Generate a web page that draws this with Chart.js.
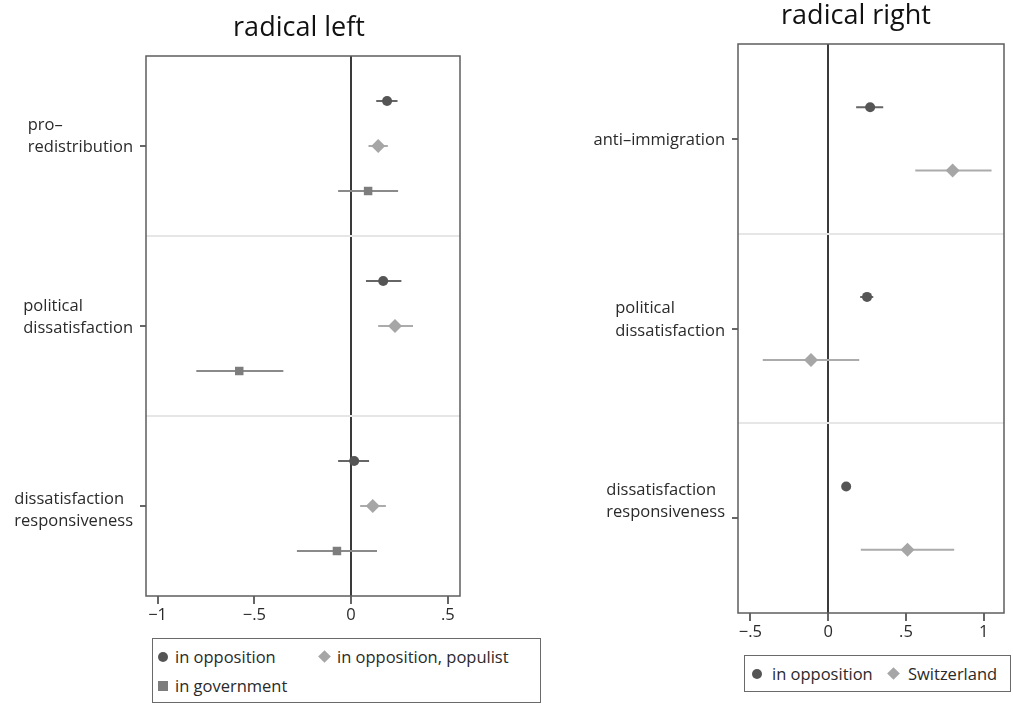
<!DOCTYPE html>
<html>
<head>
<meta charset="utf-8">
<script src="https://cdn.jsdelivr.net/npm/chart.js@4.4.0/dist/chart.umd.min.js"></script>
<style>
  body { margin: 0; background: #fff; font-family: "Open Sans", sans-serif; }
  #wrap { position: relative; width: 1013px; height: 703px; overflow: hidden; }
  canvas { position: absolute; top: 0; }
  .box { position: absolute; border: 1.5px solid #6a6a6a; box-sizing: border-box; }
  .item { position: absolute; white-space: nowrap; font-size: 16.5px; color: #2a2a2a; line-height: 20px; height: 20px; }
  .mk { position: absolute; top: 5px; width: 10px; height: 10px; }
</style>
</head>
<body>
<div id="wrap">
  <canvas id="chartLeft" width="560" height="630" style="left:0"></canvas>
  <canvas id="chartRight" width="453" height="647" style="left:560px"></canvas>

  <div class="box" style="left:152px;top:638px;width:389px;height:65px"></div>
  <div class="item" style="left:158px;top:647px"><span class="mk" style="left:0;border-radius:50%;background:#555"></span><span style="margin-left:17px">in opposition</span></div>
  <div class="item" style="left:320px;top:647px"><span class="mk" style="left:0;width:9px;height:9px;top:5px;transform:rotate(45deg);background:#a6a6a6"></span><span style="margin-left:17px">in opposition, populist</span></div>
  <div class="item" style="left:158px;top:676px"><span class="mk" style="left:0;background:#7d7d7d"></span><span style="margin-left:17px">in government</span></div>

  <div class="box" style="left:744px;top:655px;width:267px;height:37px"></div>
  <div class="item" style="left:752px;top:664px"><span class="mk" style="left:0;border-radius:50%;background:#555"></span><span style="margin-left:20px">in opposition</span></div>
  <div class="item" style="left:889px;top:664px"><span class="mk" style="left:0;width:9px;height:9px;transform:rotate(45deg);background:#a6a6a6"></span><span style="margin-left:19px">Switzerland</span></div>
</div>

<script>
// radical left
const leftCats = [["pro–", "redistribution"], ["political", "dissatisfaction"], ["dissatisfaction", "responsiveness"]];
const leftSeries = ["in opposition", "in opposition, populist", "in government"];
const leftOppEst = [0.186, 0.166, 0.016];
const leftOppLo = [0.13, 0.077, -0.067];
const leftOppHi = [0.24, 0.26, 0.093];
const leftPopEst = [0.14, 0.227, 0.112];
const leftPopLo = [0.09, 0.14, 0.047];
const leftPopHi = [0.19, 0.32, 0.18];
const leftGovEst = [0.088, -0.578, -0.073];
const leftGovLo = [-0.067, -0.80, -0.28];
const leftGovHi = [0.243, -0.35, 0.134];
const leftTicks = [-1, -0.5, 0, 0.5];

// radical right
const rightCats = [["anti–immigration"], ["political", "dissatisfaction"], ["dissatisfaction", "responsiveness"]];
const rightSeries = ["in opposition", "Switzerland"];
const rightOppEst = [0.27, 0.25, 0.116];
const rightOppLo = [0.18, 0.206, 0.10];
const rightOppHi = [0.354, 0.29, 0.132];
const rightSwiEst = [0.80, -0.11, 0.51];
const rightSwiLo = [0.56, -0.42, 0.21];
const rightSwiHi = [1.05, 0.20, 0.81];
const rightTicks = [-0.5, 0, 0.5, 1];

Chart.defaults.font.family = "'Open Sans', sans-serif";

const estilos = {
  opp: { color: "#555555", bar: "#666666", shape: "circle", r: 5 },
  pop: { color: "#a6a6a6", bar: "#ababab", shape: "rectRot", r: 7 },
  gov: { color: "#7d7d7d", bar: "#8a8a8a", shape: "rect", r: 6 }
};

const TRANSP = "rgba(0,0,0,0)";

// caixa à volta da área do gráfico
const moldura = {
  id: "moldura",
  afterDatasetsDraw(chart) {
    const { ctx, chartArea: a } = chart;
    ctx.save();
    ctx.strokeStyle = "#5e5e5e";
    ctx.lineWidth = 1.5;
    ctx.strokeRect(a.left, a.top, a.right - a.left, a.bottom - a.top);
    ctx.restore();
  }
};

// rótulos das categorias (linhas alinhadas à esquerda, bloco encostado ao eixo)
const rotulos = {
  id: "rotulos",
  afterDraw(chart, args, opts) {
    const { ctx, chartArea: a } = chart;
    const y = chart.scales.y;
    ctx.save();
    ctx.font = "16.5px 'Open Sans', sans-serif";
    ctx.fillStyle = "#2a2a2a";
    ctx.textBaseline = "middle";
    ctx.textAlign = "left";
    opts.cats.forEach((linhas, g) => {
      const py = y.getPixelForValue(g * opts.span + opts.span / 2);
      const w = Math.max(...linhas.map(l => ctx.measureText(l).width));
      const x0 = a.left - opts.gap - w;
      linhas.forEach((l, i) => ctx.fillText(l, x0, py + opts.shifts[g] + i * 22.5));
    });
    ctx.restore();
  }
};

function fmtTick(v) {
  if (v === 0) return "0";
  return (v < 0 ? "−" : "") + String(Math.abs(v)).replace(/^0/, "");
}

function criarGrafico(id, o) {
  const span = o.series.length + 1;
  const datasets = [];
  o.series.forEach((s, r) => {
    const ys = o.cats.map((c, g) => g * span + 1 + r);
    datasets.push({
      label: s.name,
      data: s.est.map((v, g) => ({ x: v, y: ys[g] })),
      pointStyle: s.st.shape,
      pointRadius: s.st.r,
      backgroundColor: s.st.color,
      borderColor: s.st.color,
      borderWidth: 0,
      order: 0
    });
    const barras = [];
    o.cats.forEach((c, g) => {
      barras.push({ x: s.lo[g], y: ys[g] }, { x: s.hi[g], y: ys[g] }, { x: null, y: null });
    });
    datasets.push({
      label: s.name + " CI",
      data: barras,
      showLine: true,
      spanGaps: false,
      pointRadius: 0,
      borderColor: s.st.bar,
      borderWidth: 2,
      order: 1
    });
  });

  const yTicks = [];
  o.cats.forEach((c, g) => {
    if (g > 0) yTicks.push({ value: g * span });
    yTicks.push({ value: g * span + span / 2 });
  });
  const ehCentro = v => Math.abs((v % span) - span / 2) < 1e-9;

  return new Chart(document.getElementById(id), {
    type: "scatter",
    data: { datasets },
    plugins: [moldura, rotulos],
    options: {
      responsive: false,
      animation: false,
      events: [],
      layout: { padding: { left: o.padLeft, right: o.padRight, top: 0, bottom: 0 } },
      plugins: {
        legend: { display: false },
        tooltip: { enabled: false },
        title: {
          display: true,
          text: o.title,
          color: "#111",
          font: { size: 27, weight: "normal" },
          padding: { top: o.titleTop, bottom: o.titleBottom }
        },
        rotulos: { cats: o.cats, span, gap: 13, shifts: o.shifts }
      },
      scales: {
        x: {
          type: "linear",
          min: o.xMin,
          max: o.xMax,
          afterBuildTicks: sc => { sc.ticks = o.ticks.map(v => ({ value: v })); },
          afterFit: sc => { sc.height = 34; },
          border: { display: false },
          grid: {
            drawOnChartArea: true,
            color: ctx => (ctx.tick && ctx.tick.value === 0 ? "#3a3a3a" : TRANSP),
            lineWidth: 2,
            tickColor: "#666",
            tickLength: 8
          },
          ticks: {
            callback: v => fmtTick(v),
            font: { size: 16.5 },
            color: "#2a2a2a",
            padding: 1,
            maxRotation: 0,
            autoSkip: false
          }
        },
        y: {
          type: "linear",
          min: 0,
          max: o.cats.length * span,
          reverse: true,
          afterBuildTicks: sc => { sc.ticks = yTicks.slice(); },
          afterFit: sc => { sc.width = o.axisW; },
          border: { display: false },
          grid: {
            drawOnChartArea: true,
            color: ctx => (ctx.tick && !ehCentro(ctx.tick.value) ? "#e6e6e6" : TRANSP),
            tickColor: ctx => (ctx.tick && ehCentro(ctx.tick.value) ? "#666" : TRANSP),
            lineWidth: 2,
            tickLength: 6
          },
          ticks: { display: false }
        }
      }
    }
  });
}

criarGrafico("chartLeft", {
  title: "radical left",
  cats: leftCats,
  series: [
    { name: leftSeries[0], est: leftOppEst, lo: leftOppLo, hi: leftOppHi, st: estilos.opp },
    { name: leftSeries[1], est: leftPopEst, lo: leftPopLo, hi: leftPopHi, st: estilos.pop },
    { name: leftSeries[2], est: leftGovEst, lo: leftGovLo, hi: leftGovHi, st: estilos.gov }
  ],
  ticks: leftTicks,
  xMin: -1.06, xMax: 0.563,
  padLeft: 138, padRight: 100, axisW: 8,
  titleTop: 12, titleBottom: 11.6,
  shifts: [-21, -20, -7]
});

criarGrafico("chartRight", {
  title: "radical right",
  cats: rightCats,
  series: [
    { name: rightSeries[0], est: rightOppEst, lo: rightOppLo, hi: rightOppHi, st: estilos.opp },
    { name: rightSeries[1], est: rightSwiEst, lo: rightSwiLo, hi: rightSwiHi, st: estilos.pop }
  ],
  ticks: rightTicks,
  xMin: -0.579, xMax: 1.13,
  padLeft: 148, padRight: 9, axisW: 30,
  titleTop: 0, titleBottom: 11.6,
  shifts: [1, -20, -28]
});
</script>
</body>
</html>
